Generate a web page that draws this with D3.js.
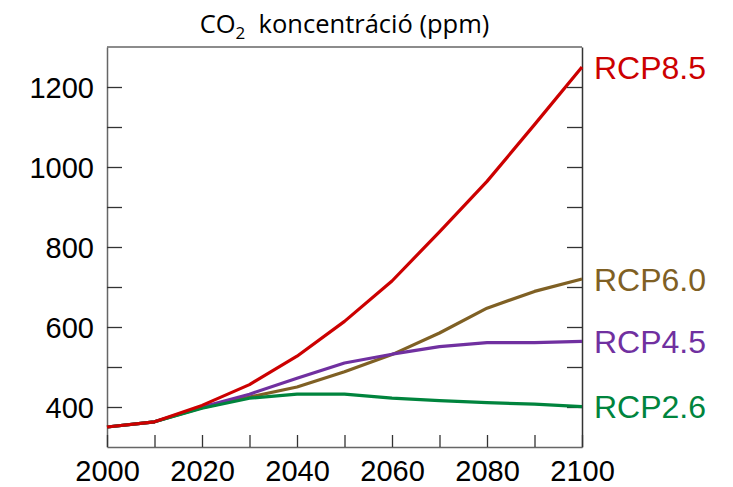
<!DOCTYPE html>
<html>
<head>
<meta charset="utf-8">
<script src="https://cdn.jsdelivr.net/npm/d3@7"></script>
<style>
  html, body { margin: 0; padding: 0; background: #fff; }
  svg { display: block; }
</style>
</head>
<body>
<svg id="chart" width="733" height="487"></svg>
<script>
const years = [2000, 2010, 2020, 2030, 2040, 2050, 2060, 2070, 2080, 2090, 2100];
const rcp85 = [350, 363, 404, 456, 527, 614, 715, 838, 964, 1106, 1250];
const rcp60 = [350, 363, 398, 425, 450, 488, 531, 585, 647, 689, 720];
const rcp45 = [350, 363, 400, 432, 472, 510, 532, 551, 561, 561, 564];
const rcp26 = [350, 363, 397, 422, 432, 432, 422, 416, 411, 407, 401];
const seriesNames = ["RCP6.0", "RCP4.5", "RCP2.6", "RCP8.5"];
const seriesValues = [rcp60, rcp45, rcp26, rcp85];
const seriesColors = ["#7f6024", "#7030a0", "#00843d", "#cc0000"];
const yTicks = [400, 500, 600, 700, 800, 900, 1000, 1100, 1200];
const yLabels = [400, 600, 800, 1000, 1200];
const xTicks = [2000, 2010, 2020, 2030, 2040, 2050, 2060, 2070, 2080, 2090, 2100];
const xLabels = [2000, 2020, 2040, 2060, 2080, 2100];
const titleMain = "CO";
const titleSub = "2";
const titleRest = "  koncentráció (ppm)";

const svg = d3.select("#chart");
const L = 107, R = 582, T = 47, B = 447;
const x = d3.scaleLinear().domain([2000, 2100]).range([L, R]);
const y = d3.scaleLinear().domain([300, 1300]).range([B, T]);

const font = "'Liberation Sans', Arial, sans-serif";

// frame top line
svg.append("line").attr("x1", L).attr("x2", R).attr("y1", T).attr("y2", T)
  .attr("stroke", "#666").attr("stroke-width", 1.5);

// left axis
const gl = svg.append("g").attr("transform", `translate(${L},0)`)
  .call(d3.axisLeft(y).tickValues(yTicks).tickSize(-15).tickSizeOuter(0).tickPadding(13)
    .tickFormat(d => yLabels.includes(d) ? d : ""));
// right axis
const gr = svg.append("g").attr("transform", `translate(${R},0)`)
  .call(d3.axisRight(y).tickValues(yTicks).tickSize(-15).tickSizeOuter(0).tickFormat(""));
// bottom axis
const gb = svg.append("g").attr("transform", `translate(0,${B})`)
  .call(d3.axisBottom(x).tickValues(xTicks).tickSize(-12).tickSizeOuter(0).tickPadding(13)
    .tickFormat(d => xLabels.includes(d) ? d : ""));

[gl, gr, gb].forEach(g => {
  g.select(".domain").attr("stroke", "#666").attr("stroke-width", 1.5);
  g.selectAll(".tick line").attr("stroke", "#333").attr("stroke-width", 1.3);
  g.selectAll(".tick text").attr("fill", "#000").style("font-family", font).style("font-size", "29px");
});
gr.select(".domain").attr("stroke", "#333");
gl.selectAll(".tick text").attr("dy", "0.36em");
gb.selectAll(".tick text").attr("dy", "0.71em");

// lines
const line = d3.line().x((d, i) => x(years[i])).y(d => y(d));
seriesValues.forEach((vals, k) => {
  svg.append("path").datum(vals)
    .attr("d", line)
    .attr("fill", "none")
    .attr("stroke", seriesColors[k])
    .attr("stroke-width", 3.2)
    .attr("stroke-linejoin", "round");
  svg.append("text")
    .attr("x", R + 12)
    .attr("y", y(vals[vals.length - 1]))
    .attr("dy", "0.36em")
    .attr("fill", seriesColors[k])
    .style("font-family", font)
    .style("font-size", "32px")
    .text(seriesNames[k]);
});

// title
const title = svg.append("text")
  .attr("x", (L + R) / 2).attr("y", 33)
  .attr("text-anchor", "middle")
  .style("font-family", "'Open Sans', 'DejaVu Sans', sans-serif")
  .style("font-size", "25.5px")
  .style("white-space", "pre")
  .attr("fill", "#000");
title.append("tspan").text(titleMain);
title.append("tspan").attr("dy", 6).style("font-size", "17px").text(titleSub);
title.append("tspan").attr("dy", -6).text(titleRest);
</script>
</body>
</html>
